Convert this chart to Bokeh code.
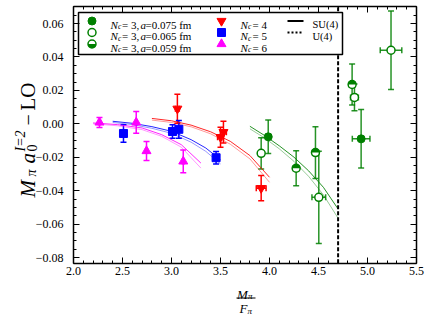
import numpy as np
from bokeh.plotting import figure
from bokeh.models import (Range1d, LinearAxis, FixedTicker, CustomJSTickFormatter,
                          ColumnDataSource, Whisker, TeeHead, Label)
from bokeh.embed import file_html
from bokeh.resources import INLINE

FONT = "Liberation Serif"
GREEN = "#008000"; RED = "#ff0000"; BLUE = "#0000ff"; MAG = "#ff00ff"

# ---------------- data ----------------
# N_c = 4
x_nc4 = [3.06, 3.50, 3.53, 3.915]
y_nc4 = [0.0090, -0.0080, -0.0050, -0.0385]
ye_nc4 = [0.0087, 0.0060, 0.0065, 0.0075]
xe_nc4 = [0.02, 0.03, 0.03, 0.05]
# N_c = 5
x_nc5 = [2.51, 3.01, 3.075, 3.455]
y_nc5 = [-0.0058, -0.0046, -0.0033, -0.0203]
ye_nc5 = [0.0052, 0.0040, 0.0053, 0.0037]
xe_nc5 = [0.02, 0.02, 0.02, 0.02]
# N_c = 6
x_nc6 = [2.265, 2.64, 2.745, 3.12]
y_nc6 = [0.0008, 0.0008, -0.0163, -0.0225]
ye_nc6 = [0.0030, 0.0065, 0.0057, 0.0068]
xe_nc6 = [0.01, 0.01, 0.01, 0.01]
# N_c = 3, three lattice spacings
x_a075 = [3.987, 4.935]
y_a075 = [-0.0078, -0.0090]
ye_a075 = [0.0100, 0.0175]
xe_a075 = [0.02, 0.09]
x_a065 = [3.915, 4.503, 4.867, 5.24]
y_a065 = [-0.0177, -0.0440, 0.0158, 0.0440]
ye_a065 = [0.0093, 0.0276, 0.0080, 0.0235]
xe_a065 = [0.02, 0.07, 0.04, 0.11]
x_a059 = [4.272, 4.469, 4.843]
y_a059 = [-0.0266, -0.0172, 0.0235]
ye_a059 = [0.0105, 0.0155, 0.0122]
xe_a059 = [0.03, 0.03, 0.03]

# fit curves (upper / lower edges)
fx_nc6 = [2.20, 2.45, 2.70, 2.90, 3.10, 3.30]
fu_nc6 = [0.0005, -0.0005, -0.0025, -0.0065, -0.0125, -0.0235]
fl_nc6 = [0.0000, -0.0012, -0.0035, -0.0075, -0.0140, -0.0265]
fx_nc5 = [2.40, 2.60, 2.80, 3.00, 3.20, 3.35, 3.50]
fu_nc5 = [0.0015, 0.0003, -0.0017, -0.0045, -0.0095, -0.0145, -0.0215]
fl_nc5 = [0.0008, -0.0005, -0.0027, -0.0057, -0.0110, -0.0165, -0.0240]
fx_nc4 = [2.80, 3.00, 3.20, 3.40, 3.60, 3.80, 4.00]
fu_nc4 = [0.0032, 0.0018, -0.0008, -0.0048, -0.0105, -0.0190, -0.0320]
fl_nc4 = [0.0022, 0.0008, -0.0018, -0.0060, -0.0122, -0.0210, -0.0350]
fx_nc3 = [3.80, 3.95, 4.10, 4.25, 4.40, 4.55, 4.70]
fu_nc3 = [-0.0015, -0.0070, -0.0132, -0.0200, -0.0282, -0.0380, -0.0510]
fl_nc3 = [-0.0030, -0.0085, -0.0150, -0.0225, -0.0315, -0.0425, -0.0565]

vline_x = 4.70
x_ticks = [2.0, 2.5, 3.0, 3.5, 4.0, 4.5, 5.0, 5.5]
y_ticks = [-0.08, -0.06, -0.04, -0.02, 0.00, 0.02, 0.04, 0.06]
X_BOX = (2.0, 5.5)
Y_BOX = (-0.0834, 0.0700)

# ---------------- layout: the frame covers the whole canvas ----------------
W, H = 433, 316
BOX_L, BOX_R = 73, 416                  # canvas px of the data box edges (x)
Y_TOP_TICK_PX, Y_BOT_TICK_PX = 23, 257  # canvas px of 0.06 and -0.08
px_x = (BOX_R - BOX_L) / (X_BOX[1] - X_BOX[0])
px_y = (Y_BOT_TICK_PX - Y_TOP_TICK_PX) / (y_ticks[-1] - y_ticks[0])
x_range = Range1d(X_BOX[0] - BOX_L / px_x, X_BOX[0] + (W - BOX_L) / px_x)
y_range = Range1d(y_ticks[-1] - (H - Y_TOP_TICK_PX) / px_y, y_ticks[-1] + Y_TOP_TICK_PX / px_y)

p = figure(width=W, height=H, output_backend="svg", toolbar_location=None,
           x_range=x_range, y_range=y_range, x_axis_location=None, y_axis_location=None,
           min_border=0, min_border_left=0, min_border_right=0, min_border_top=0, min_border_bottom=0)
p.background_fill_color = "white"
p.border_fill_color = "white"
p.outline_line_color = None
p.xgrid.visible = False
p.ygrid.visible = False

# canvas-pixel coordinate system for legend and axis-title pieces
p.extra_x_ranges = {"lx": Range1d(0, W)}
p.extra_y_ranges = {"ly": Range1d(H, 0)}
LK = dict(x_range_name="lx", y_range_name="ly")

x_minor = list(np.round(np.arange(X_BOX[0], X_BOX[1] + 1e-9, 0.1), 3))
y_minor = list(np.round(np.arange(-0.08, 0.0701, 0.005), 4))

xfmt = "return tick.toFixed(1);"
yfmt = "return (tick < -1e-9 ? '\u2212' : '') + Math.abs(tick).toFixed(2);"

def mk_axis(side, loc, bounds, ticks, minor, fmt=None, standoff=4):
    ax = LinearAxis(fixed_location=loc, bounds=bounds)
    ax.ticker = FixedTicker(ticks=ticks, minor_ticks=minor)
    ax.major_tick_in = 6; ax.major_tick_out = 0
    ax.minor_tick_in = 3; ax.minor_tick_out = 0
    ax.major_tick_line_width = 1; ax.minor_tick_line_width = 1
    ax.axis_line_width = 1.5
    if fmt:
        ax.formatter = CustomJSTickFormatter(code=fmt)
        ax.major_label_text_font = FONT
        ax.major_label_text_font_size = "12px"
        ax.major_label_text_color = "black"
        ax.major_label_standoff = standoff
    else:
        ax.formatter = CustomJSTickFormatter(code="return '';")
        ax.major_label_text_font_size = "0px"
        ax.major_label_standoff = 0
    p.add_layout(ax, side)

mk_axis("below", Y_BOX[0], X_BOX, x_ticks, x_minor, xfmt, 4)
mk_axis("above", Y_BOX[1], X_BOX, x_ticks, x_minor)
mk_axis("left", X_BOX[0], Y_BOX, y_ticks, y_minor, yfmt, 10)
mk_axis("right", X_BOX[1], Y_BOX, y_ticks, y_minor)

# ---------------- fit curves ----------------
for fx, fu, fl, c in [(fx_nc6, fu_nc6, fl_nc6, MAG), (fx_nc5, fu_nc5, fl_nc5, BLUE),
                      (fx_nc4, fu_nc4, fl_nc4, RED), (fx_nc3, fu_nc3, fl_nc3, GREEN)]:
    p.line(fx, fu, line_color=c, line_width=1.0, line_alpha=0.85)
    p.line(fx, fl, line_color=c, line_width=1.0, line_alpha=0.4)

# vertical dashed line
p.segment(x0=[vline_x], y0=[Y_BOX[0]], x1=[vline_x], y1=[Y_BOX[1]],
          line_color="black", line_width=2, line_dash="4 2")

# ---------------- error bars and points ----------------
def errbars(xs, ys, yerr, xerr, color, alpha=1.0):
    xs = np.array(xs); ys = np.array(ys); ye = np.array(yerr); xe = np.array(xerr)
    src = ColumnDataSource(dict(x=xs, y=ys, yu=ys + ye, yl=ys - ye, xu=xs + xe, xl=xs - xe))
    for dim, base, up, lo in [("height", "x", "yu", "yl"), ("width", "y", "xu", "xl")]:
        w = Whisker(source=src, base=base, upper=up, lower=lo, dimension=dim,
                    line_color=color, line_width=1.5, line_alpha=alpha,
                    upper_head=TeeHead(size=6, line_color=color, line_width=1.5, line_alpha=alpha),
                    lower_head=TeeHead(size=6, line_color=color, line_width=1.5, line_alpha=alpha))
        p.add_layout(w)
    return src

s4 = errbars(x_nc4, y_nc4, ye_nc4, xe_nc4, RED)
s5 = errbars(x_nc5, y_nc5, ye_nc5, xe_nc5, BLUE)
s6 = errbars(x_nc6, y_nc6, ye_nc6, xe_nc6, MAG)
sa = errbars(x_a075, y_a075, ye_a075, xe_a075, GREEN, 0.85)
sb = errbars(x_a065, y_a065, ye_a065, xe_a065, GREEN, 0.85)
sc = errbars(x_a059, y_a059, ye_a059, xe_a059, GREEN, 0.85)

p.scatter("x", "y", source=s4, marker="inverted_triangle", size=9, color=RED)
p.scatter("x", "y", source=s5, marker="square", size=8, color=BLUE)
p.scatter("x", "y", source=s6, marker="triangle", size=9, color=MAG)
p.scatter("x", "y", source=sa, marker="circle", size=8, color=GREEN)
p.scatter("x", "y", source=sb, marker="circle", size=8, fill_color="white", line_color=GREEN, line_width=1.5)
p.scatter("x", "y", source=sc, marker="circle", size=8, fill_color="white", line_color=GREEN, line_width=1.5)
p.wedge("x", "y", source=sc, radius=4, radius_units="screen", start_angle=0, end_angle=np.pi,
        fill_color=GREEN, line_color=None)

# ---------------- legend (canvas-pixel coordinates) ----------------
p.quad(left=[78], right=[342], top=[12], bottom=[54], fill_color="white",
       line_color="black", line_width=1.5, **LK)
rows = [20.5, 32.0, 43.5]
p.scatter([91.5], [rows[0]], marker="circle", size=8, color=GREEN, **LK)
p.scatter([91.5], [rows[1]], marker="circle", size=8, fill_color="white", line_color=GREEN, line_width=1.5, **LK)
p.scatter([91.5], [rows[2]], marker="circle", size=8, fill_color="white", line_color=GREEN, line_width=1.5, **LK)
p.wedge([91.5], [rows[2]], radius=4, radius_units="screen", start_angle=np.pi, end_angle=2 * np.pi,
        fill_color=GREEN, line_color=None, **LK)
p.scatter([221], [rows[0]], marker="inverted_triangle", size=9, color=RED, **LK)
p.scatter([221], [rows[1]], marker="square", size=8, color=BLUE, **LK)
p.scatter([221], [rows[2]], marker="triangle", size=9, color=MAG, **LK)
p.line([287, 303], [rows[0], rows[0]], line_color="black", line_width=2, **LK)
p.line([287, 303], [rows[1], rows[1]], line_color="black", line_width=2, line_dash="2 2", **LK)

def lab(text, x, y, size, italic=False, angle=0.0, baseline="alphabetic", align="left"):
    p.add_layout(Label(x=x, y=y, text=text, text_font=FONT, text_font_size=f"{size}px",
                       text_font_style="italic" if italic else "normal", angle=angle,
                       text_baseline=baseline, text_align=align, text_color="black", **LK))

legend_a = ["0.075", "0.065", "0.059"]
for r, a in zip(rows, legend_a):
    b = r + 3.8
    lab("N", 110, b, 11, True)
    lab("c", 117.5, b + 2, 7.5, True)
    lab("= 3,", 121.5, b, 11)
    lab("a", 140, b, 11, True)
    lab("=" + a + " fm", 145, b, 11)
for r, n in zip(rows, ["4", "5", "6"]):
    b = r + 3.8
    lab("N", 240, b, 11, True)
    lab("c", 247.5, b + 2, 7.5, True)
    lab("= " + n, 252, b, 11)
lab("SU(4)", 312, rows[0] + 3.8, 10.5)
lab("U(4)", 312, rows[1] + 3.8, 10.5)

# ---------------- axis titles ----------------
R = np.pi / 2
YT_MAIN, YT_SUB, YT_SUP = 27, 31, 20
lab("M", YT_MAIN, 197, 21, True, R)
lab("\u03c0", YT_SUB, 176, 14, True, R)
lab("a", YT_MAIN, 163, 21, True, R)
lab("0", YT_SUB, 151, 14, False, R)
lab("I=2", YT_SUP, 151, 14, True, R)
lab("\u2212", YT_MAIN, 125, 20, False, R)
lab("LO", YT_MAIN, 110, 21, False, R)

lab("M", 236.5, 293.5, 13, True)
lab("\u03c0", 247.5, 295.5, 9, True)
p.line([236, 255], [297.5, 297.5], line_color="black", line_width=1, **LK)
lab("F", 239, 308, 13, True)
lab("\u03c0", 247, 310, 9, True)

open("out.html", "w").write(file_html(p, INLINE))
